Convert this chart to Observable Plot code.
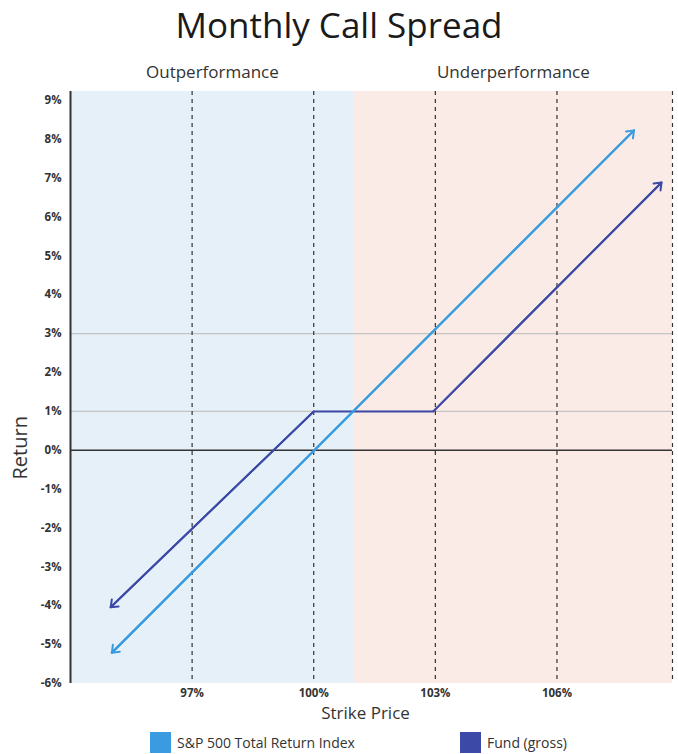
<!DOCTYPE html>
<html>
<head>
<meta charset="utf-8">
<script src="https://cdn.jsdelivr.net/npm/d3@7"></script>
<script src="https://cdn.jsdelivr.net/npm/@observablehq/plot@0.6"></script>
<style>
  html, body { margin: 0; padding: 0; background: #fff; }
  body { width: 678px; font-family: "Open Sans", sans-serif; color: #222; }
  #title { height: 50px; line-height: 50px; font-size: 35px; text-align: center; color: #1a1a1a; overflow: visible; }
  #legend { position: relative; height: 24px; font-size: 14px; color: #333; }
  .item { position: absolute; top: 2px; display: flex; align-items: center; }
  .sw { width: 21px; height: 21px; margin-right: 6px; }
</style>
</head>
<body>
<div id="title">Monthly Call Spread</div>
<div id="chart"></div>
<div id="legend"></div>
<script>
// ---- data ----
const seriesNames = ["S&P 500 Total Return Index", "Fund (gross)"];
const spStrike = [95.02, 107.9];
const spReturn = [-5.21, 8.23];
const fundStrike = [94.99, 100, 102.95, 108.58];
const fundReturn = [-4.04, 1, 1, 6.89];
const regionLabels = ["Outperformance", "Underperformance"];
const regionStart = [94, 101];
const regionEnd = [101, 108.85];
const xTicks = [97, 100, 103, 106];
const yTicks = [-6, -5, -4, -3, -2, -1, 0, 1, 2, 3, 4, 5, 6, 7, 8, 9];
const gridReturns = [1, 3];
const xDomain = [94, 108.85];
const yDomain = [-6, 9.23];

// ---- styles ----
const seriesColors = ["#3a9be0", "#3c49a6"];
const regionColors = ["#e6f0f9", "#fbebe7"];

const toRows = (xs, ys, name) => xs.map((s, i) => ({strike: s, ret: ys[i], series: name}));
const sp = toRows(spStrike, spReturn, seriesNames[0]);
const fund = toRows(fundStrike, fundReturn, seriesNames[1]);
const regions = regionLabels.map((l, i) => ({label: l, x1: regionStart[i], x2: regionEnd[i], mid: (regionStart[i] + regionEnd[i]) / 2, idx: i}));

// arrowheads at both ends of each series: segment from neighbour point to end point
const heads = [];
[sp, fund].forEach(rows => {
  const n = rows.length;
  heads.push({x1: rows[1].strike, y1: rows[1].ret, x2: rows[0].strike, y2: rows[0].ret, series: rows[0].series});
  heads.push({x1: rows[n - 2].strike, y1: rows[n - 2].ret, x2: rows[n - 1].strike, y2: rows[n - 1].ret, series: rows[0].series});
});

const chart = Plot.plot({
  width: 678,
  height: 680,
  marginLeft: 70,
  marginRight: 6,
  marginTop: 41,
  marginBottom: 47,
  style: {fontFamily: "Open Sans, sans-serif", background: "transparent"},
  x: {domain: xDomain, ticks: xTicks, tickFormat: d => d + "%"},
  y: {domain: yDomain, ticks: yTicks, tickFormat: d => d + "%"},
  color: {domain: seriesNames, range: seriesColors},
  marks: [
    Plot.rect(regions, {x1: "x1", x2: "x2", y1: yDomain[0], y2: yDomain[1], fill: d => regionColors[d.idx]}),
    Plot.ruleY(gridReturns, {stroke: "#c4c4c4", strokeWidth: 1.2}),
    Plot.ruleX(xTicks, {stroke: "#333", strokeWidth: 1.2, strokeDasharray: "4,4"}),
    Plot.ruleX([xDomain[1]], {stroke: "#333", strokeWidth: 1.2, strokeDasharray: "4,4"}),
    Plot.ruleY([0], {stroke: "#333", strokeWidth: 1.5}),
    Plot.ruleX([xDomain[0]], {stroke: "#333", strokeWidth: 2}),
    Plot.line(sp, {x: "strike", y: "ret", stroke: "series", strokeWidth: 2}),
    Plot.line(fund, {x: "strike", y: "ret", stroke: "series", strokeWidth: 2}),
    Plot.arrow(heads, {x1: "x1", y1: "y1", x2: "x2", y2: "y2", stroke: "series", strokeWidth: 2, headLength: 6, headAngle: 75}),
    Plot.axisY({ticks: yTicks, tickFormat: d => d + "%", tickSize: 0, tickPadding: 9, label: null, fontSize: 11.5, fontWeight: "bold", fill: "#333"}),
    Plot.axisX({ticks: xTicks, tickFormat: d => d + "%", tickSize: 0, tickPadding: 5, label: null, fontSize: 11.5, fontWeight: "bold", fill: "#333"}),
    Plot.text(regions, {x: "mid", text: "label", frameAnchor: "top", dy: -26, fontSize: 17, fill: "#333"}),
    Plot.text(["Strike Price"], {frameAnchor: "bottom", dx: -6, dy: 35, fontSize: 17, fill: "#333"}),
    Plot.text(["Return"], {frameAnchor: "left", dx: -50, dy: 92, rotate: -90, fontSize: 20, fill: "#333"})
  ]
});
document.getElementById("chart").appendChild(chart);

const legend = document.getElementById("legend");
const legendLeft = [150, 460];
seriesNames.forEach((name, i) => {
  const item = document.createElement("div");
  item.className = "item";
  item.style.left = legendLeft[i] + "px";
  const sw = document.createElement("div");
  sw.className = "sw";
  sw.style.background = seriesColors[i];
  const t = document.createElement("span");
  t.textContent = name;
  item.appendChild(sw);
  item.appendChild(t);
  legend.appendChild(item);
});
</script>
</body>
</html>
